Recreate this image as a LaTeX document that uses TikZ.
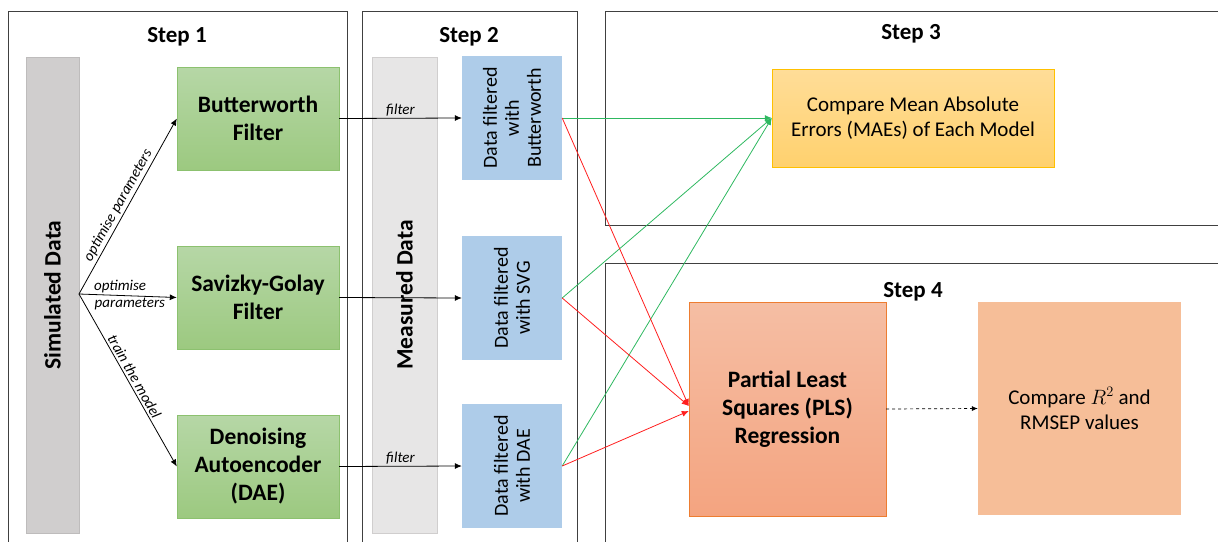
\documentclass[tikz,border=0pt]{standalone}
\usepackage{fontspec}
\setmainfont{Carlito}
\usetikzlibrary{arrows.meta,calc}

\definecolor{framegray}{RGB}{64,64,64}
\definecolor{simfill}{RGB}{208,206,206}
\definecolor{simdraw}{RGB}{190,188,188}
\definecolor{measfill}{RGB}{231,230,230}
\definecolor{measdraw}{RGB}{208,206,206}
\definecolor{greentop}{RGB}{182,215,166}
\definecolor{greenbot}{RGB}{156,201,128}
\definecolor{greendraw}{RGB}{140,193,111}
\definecolor{bluefill}{RGB}{174,204,233}
\definecolor{mtop}{RGB}{255,221,152}
\definecolor{mbot}{RGB}{255,209,110}
\definecolor{mdraw}{RGB}{255,192,0}
\definecolor{ptop}{RGB}{245,190,164}
\definecolor{pbot}{RGB}{244,164,128}
\definecolor{pdraw}{RGB}{237,125,49}
\definecolor{rfill}{RGB}{246,190,152}
\definecolor{lgreen}{RGB}{46,184,96}
\definecolor{lred}{RGB}{255,30,30}

\tikzset{
  frame/.style={draw=framegray, line width=0.9pt},
  steptitle/.style={font=\fontsize{23}{27}\selectfont\bfseries},
  bar/.style={rotate=90, font=\fontsize{23.5}{27}\selectfont\bfseries, inner sep=0pt},
  greenbox/.style={draw=greendraw, top color=greentop, bottom color=greenbot,
    minimum width=162pt, minimum height=103pt, align=center,
    font=\fontsize{23.5}{28}\selectfont\bfseries},
  bluebox/.style={fill=bluefill, minimum width=124pt, minimum height=100pt,
    rotate=90, align=center, font=\fontsize{20}{22}\selectfont},
  lbl/.style={font=\fontsize{15}{17}\selectfont\itshape, inner sep=2pt},
  arr/.style={-{Latex[length=7pt,width=6pt]}, line width=0.8pt, black},
  garr/.style={-{Latex[length=7pt,width=6pt]}, line width=0.8pt, lgreen},
  rarr/.style={-{Latex[length=7pt,width=6pt]}, line width=0.8pt, lred},
}

\begin{document}
\begin{tikzpicture}[x=1pt,y=-1pt]
\useasboundingbox (0,0) rectangle (1218,541);

% step frames
\draw[frame] (8,545) -- (8,11) -- (347,11) -- (347,545);
\draw[frame] (362,545) -- (362,11) -- (577,11) -- (577,545);
\draw[frame] (1222,11) -- (605,11) -- (605,225) -- (1222,225);
\draw[frame] (1222,263) -- (605,263) -- (605,545);

\node[steptitle] (t1) at (177,37) {Step 1};
\node[steptitle] (t2) at (469,37) {Step 2};
\node[steptitle] (t3) at (911,34) {Step 3};
\node[steptitle] (t4) at (913,292) {Step 4};

% data columns
\node[bar, draw=simdraw, fill=simfill, minimum width=476pt, minimum height=53pt]
  (sim) at (52.5,295) {Simulated Data};
\node[bar, draw=measdraw, fill=measfill, minimum width=476pt, minimum height=65pt]
  (meas) at (404.5,295) {Measured Data};

% filters
\node[greenbox] (bw) at (258,118.5) {Butterworth\\Filter};
\node[greenbox] (sg) at (258,297.5) {Savizky-Golay\\Filter};
\node[greenbox] (dae) at (258,466.5) {Denoising\\Autoencoder\\(DAE)};

% filtered data
\node[bluebox] (fbw) at (512,118) {Data filtered\\with\\Butterworth};
\node[bluebox] (fsg) at (512,298) {Data filtered\\with SVG};
\node[bluebox] (fdae) at (512,466) {Data filtered\\with DAE};

% evaluation
\node[draw=mdraw, top color=mtop, bottom color=mbot, minimum width=282pt,
  minimum height=98pt, align=center, font=\fontsize{21}{25}\selectfont]
  (mae) at (913,118) {Compare Mean Absolute\\Errors (MAEs) of Each Model};
\node[draw=pdraw, top color=ptop, bottom color=pbot, minimum width=197pt,
  minimum height=214pt, align=center, font=\fontsize{23.5}{28}\selectfont\bfseries]
  (pls) at (787.5,409) {Partial Least\\Squares (PLS)\\Regression};
\node[fill=rfill, minimum width=203pt, minimum height=213pt, align=center,
  font=\fontsize{21}{25}\selectfont]
  (rmsep) at (1079.5,408.5) {Compare $R^2$ and\\RMSEP values};

% training connectors
\coordinate (fork) at (79,294);
\draw[arr] (fork) -- node[lbl, sloped, above, pos=0.48] {optimise parameters} (bw.west);
\draw[arr] (fork) -- node[lbl, pos=0.42, above] {optimise}
  node[lbl, pos=0.52, below] {parameters} (sg.west);
\draw[arr] (fork) -- node[lbl, sloped, above, pos=0.5] {train the model} (dae.west);

% filtering connectors
\draw[arr] (bw.east) -- node[lbl, above, pos=0.5] {filter} (fbw.north);
\draw[arr] (sg.east) -- (fsg.north);
\draw[arr] (dae.east) -- node[lbl, above, pos=0.5] {filter} (fdae.north);

% evaluation connectors
\draw[garr] (fbw.south) -- (mae.west);
\draw[garr] (fsg.south) -- (mae.west);
\draw[garr] (fdae.south) -- (mae.west);
\draw[rarr] (fbw.south) -- ($(pls.west)+(0,-3)$);
\draw[rarr] (fsg.south) -- ($(pls.west)+(0,-3)$);
\draw[rarr] (fdae.south) -- ($(pls.west)+(0,2)$);

\draw[arr, dashed, line width=0.7pt, -{Latex[length=6pt,width=5pt]}] (pls.east) -- (rmsep.west);
\end{tikzpicture}
\end{document}
